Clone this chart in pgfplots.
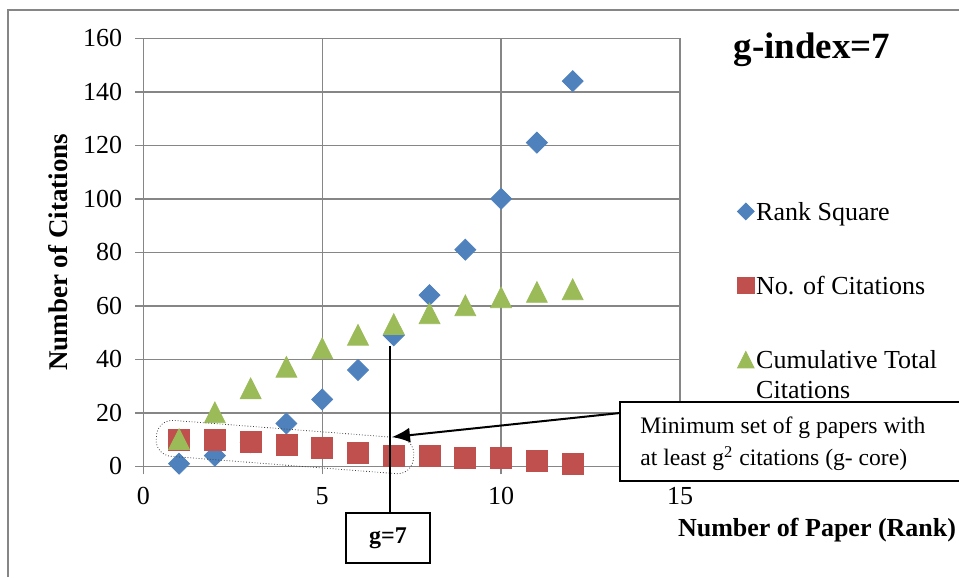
\documentclass[border=0pt]{standalone}
\usepackage{fontspec}
\setmainfont{Liberation Serif}
\usepackage{pgfplots}
\pgfplotsset{compat=1.18}
\usetikzlibrary{arrows.meta}

\definecolor{rsq}{HTML}{4F81BD}
\definecolor{cit}{HTML}{C0504D}
\definecolor{cum}{HTML}{9BBB59}
\definecolor{gridgray}{HTML}{868686}

\begin{document}
\begin{tikzpicture}
\begin{axis}[
  scale only axis, width=268.35pt, height=214pt,
  xmin=0, xmax=15, ymin=0, ymax=160,
  xtick={0,5,10,15}, ytick={0,20,...,160},
  axis x line*=bottom, axis y line*=left,
  axis line style={-, draw=gridgray, line width=0.7pt},
  grid=major, major grid style={draw=gridgray, line width=0.7pt},
  tick align=outside, major tick length=4pt,
  tick style={draw=gridgray, line width=0.7pt},
  /pgf/number format/assume math mode=true,
  tick label style={font=\fontsize{13}{15}\selectfont},
  xticklabel style={yshift=-3pt}, yticklabel style={xshift=-3pt},
  clip=false,
  legend style={draw=none, fill=none, at={(axis description cs:1.095,0.6385)},
    anchor=north west, row sep=23pt, column sep=0pt,
    font=\fontsize{13}{15}\selectfont, nodes={inner sep=1pt}},
  legend cell align=left,
  legend image code/.code={\draw[#1, every mark/.append style={scale=0.8}] plot coordinates {(0pt,0pt)};},
]
% rank squared
\addplot[only marks, mark=square*, mark size=3.7pt,
  mark options={rotate=45, fill=rsq, draw=rsq}]
  coordinates {(1,1) (2,4) (3,9) (4,16) (5,25) (6,36) (7,49) (8,64) (9,81) (10,100) (11,121) (12,144)};
\addlegendentry{\strut Rank Square}
% citations per paper
\addplot[only marks, mark=square*, mark size=5.25pt,
  mark options={fill=cit, draw=cit}]
  coordinates {(1,10) (2,10) (3,9) (4,8) (5,7) (6,5) (7,4) (8,4) (9,3) (10,3) (11,2) (12,1)};
\addlegendentry{\strut No. of Citations}
% running total of citations
\addplot[only marks, mark=triangle*, mark size=6pt,
  mark options={fill=cum, draw=cum, yshift=-1.5pt, yscale=1.15}]
  coordinates {(1,10) (2,20) (3,29) (4,37) (5,44) (6,49) (7,53) (8,57) (9,60) (10,63) (11,65) (12,66)};
\addlegendentry{\strut\makebox[0pt][l]{\raisebox{-15pt}[0pt][0pt]{Citations}}Cumulative Total}

\node[font=\bfseries\fontsize{18.5}{22}\selectfont] at (axis description cs:1.246,0.9727) {g-index=7};
\node[font=\bfseries\fontsize{13}{15}\selectfont] at (axis description cs:1.2553,-0.1488) {Number of Paper (Rank)};
\node[font=\bfseries\fontsize{13.5}{15}\selectfont, rotate=90] at (axis description cs:-0.1589,0.5) {Number of Citations};

\coordinate (bbll) at (axis cs:-4.005,-41.38);
\coordinate (bbur) at (axis cs:22.797,174.32);
\coordinate (frA) at (axis cs:-3.781,-41.38);
\coordinate (frB) at (axis cs:-3.781,170.6);
\coordinate (frC) at (axis cs:22.797,170.6);
\coordinate (core) at (axis cs:3.96,7.21);
\coordinate (vtop) at (axis cs:6.895,45);
\coordinate (vbot) at (axis cs:6.895,-17.46);
\coordinate (gbox) at (axis cs:6.839,-26.80);
\coordinate (arrS) at (axis cs:13.323,19.93);
\coordinate (arrT) at (axis cs:6.95,10.95);
\coordinate (boxTL) at (axis cs:13.323,24.04);
\coordinate (boxTR) at (axis cs:22.797,24.04);
\coordinate (boxBL) at (axis cs:13.323,-5.50);
\coordinate (boxBR) at (axis cs:22.797,-5.50);
\coordinate (boxTxt) at (axis cs:13.88,8.34);
\end{axis}

% chart frame
\draw[gridgray, line width=1pt] (frA) -- (frB) -- (frC);

% g-core outline
\node[draw=black!75, densely dotted, rounded corners=8pt, minimum width=129pt,
  minimum height=18pt, rotate=-4.4, inner sep=0pt] at (core) {};

% g marker
\draw[line width=1pt] (vtop) -- (vbot);
\node[draw, fill=white, line width=1pt, minimum width=42pt, minimum height=25pt,
  inner sep=0pt, font=\bfseries\fontsize{12}{14}\selectfont] at (gbox) {g=7};

% explanation box
\fill[white] (boxTL) rectangle (boxBR);
\draw[line width=1pt] (boxTR) -- (boxTL) -- (boxBL) -- (boxBR);
\node[anchor=west, align=left, inner sep=0pt, font=\fontsize{11.8}{16}\selectfont] at (boxTxt)
  {Minimum set of g papers with\\at least g\textsuperscript{2} citations (g- core)};
\draw[line width=1pt, -{Latex[length=9pt,width=7.5pt]}] (arrS) -- (arrT);

\pgfresetboundingbox
\useasboundingbox (bbll) rectangle (bbur);
\end{tikzpicture}
\end{document}
